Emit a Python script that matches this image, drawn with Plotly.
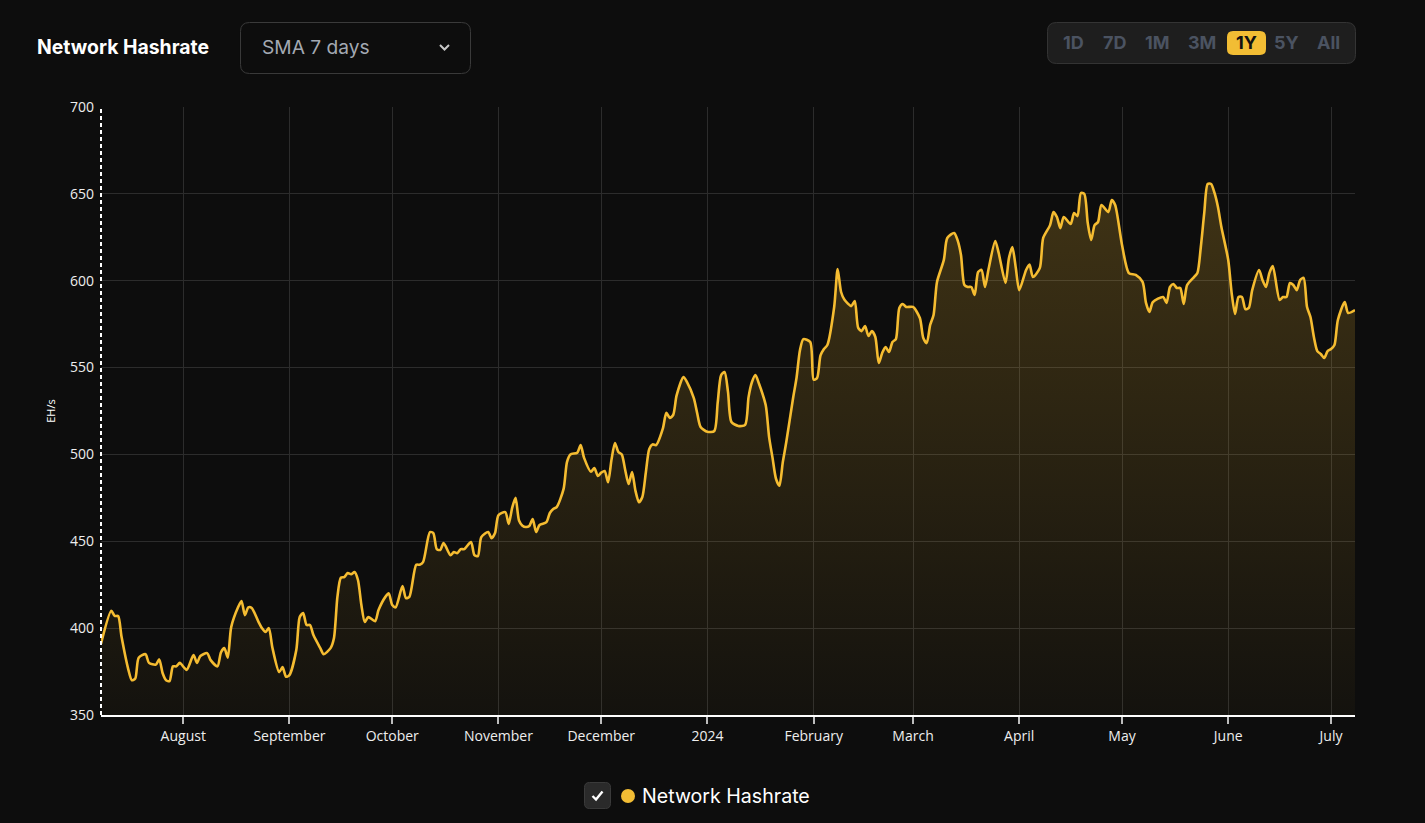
import pandas as pd
import plotly.graph_objects as go

# ---------------- data ----------------
start_date = "2023-07-08"
end_date = "2024-07-08"
day_offsets = [
    0, 3, 4, 5, 6, 8, 9, 10, 11, 13, 14, 16, 17, 18, 19, 20, 21, 22, 23, 25,
    27, 28, 29, 31, 32, 34, 35, 36, 37, 38, 40, 41, 42, 43, 44, 46, 47, 48, 49, 50,
    52, 53, 54, 55, 57, 58, 59, 60, 61, 62, 64, 65, 67, 68, 69, 70, 71, 72, 73, 74,
    75, 76, 77, 78, 80, 81, 83, 84, 85, 86, 88, 89, 90, 92, 93, 94, 96, 97, 98, 99,
    100, 102, 103, 104, 105, 106, 108, 109, 110, 111, 113, 114, 115, 116, 118, 119, 120, 121, 122, 123,
    124, 125, 126, 127, 128, 130, 131, 132, 133, 135, 136, 137, 139, 140, 141, 143, 144, 145, 146, 147,
    148, 149, 150, 151, 152, 153, 154, 155, 156, 157, 158, 159, 160, 161, 162, 164, 165, 166, 167, 168,
    170, 171, 173, 174, 175, 177, 179, 180, 181, 182, 183, 184, 186, 188, 189, 190, 191, 192, 194, 195,
    196, 197, 198, 199, 200, 202, 203, 204, 205, 207, 208, 209, 210, 211, 212, 214, 215, 216, 217, 219,
    220, 221, 222, 223, 224, 225, 226, 227, 228, 229, 230, 231, 232, 233, 234, 235, 237, 239, 240, 241,
    242, 243, 244, 246, 247, 249, 250, 251, 252, 253, 254, 255, 256, 257, 258, 259, 261, 262, 264, 265,
    266, 267, 268, 270, 271, 272, 274, 275, 277, 278, 279, 280, 281, 283, 284, 285, 286, 287, 288, 289,
    290, 291, 292, 294, 295, 296, 298, 300, 302, 304, 305, 306, 307, 310, 311, 312, 313, 314, 315, 316,
    317, 319, 320, 321, 322, 323, 324, 325, 326, 327, 329, 330, 331, 332, 333, 334, 335, 336, 338, 339,
    340, 341, 342, 344, 345, 346, 347, 348, 349, 350, 351, 352, 353, 354, 355, 356, 357, 358, 359, 360,
    361, 363, 364, 366,
]
hashrate = [
    391, 410, 407, 407, 395, 376, 370, 371, 383, 385, 380, 379, 382, 374, 370, 369.5, 378, 378, 380, 376,
    384.5, 380, 384, 385.6, 381.6, 378, 386, 388.5, 383, 400.6, 412, 415.6, 407.5, 412, 411.6, 403.5, 400, 397.8, 400, 389,
    374.7, 377.6, 372, 373, 387.4, 406.4, 408.7, 401.8, 401.8, 396, 388.5, 385, 388.5, 394.3, 418, 429, 429.4, 431.7, 431, 432.3,
    427.7, 413.3, 403.5, 406.4, 404, 410.4, 418, 420, 413.3, 412, 424.2, 417.3, 418, 436.5, 436.5, 438, 455.3, 454.7, 445.5, 445,
    449, 442, 443.8, 443.2, 445.5, 445.5, 449.6, 442, 441.5, 452.4, 455.3, 451.8, 454.7, 465, 466.8, 460, 469.2, 475, 462, 459,
    458.2, 458.8, 462.8, 455.3, 459.4, 461, 466.3, 468.6, 469.7, 480, 495.6, 500, 501, 505.4, 498, 490, 492.2, 487.6, 489.5, 490.5,
    484, 497, 506.6, 501.4, 500, 491, 483, 489.9, 479, 472.5, 475.5, 489.3, 503, 505.8, 505.4, 515, 524, 521, 522.7, 534,
    544.6, 541.7, 532.5, 523.8, 515.8, 513, 513.5, 530, 545.7, 547.4, 536, 518.7, 516.4, 517, 533, 541.7, 545.7, 541, 528.4, 510,
    498, 486, 482, 495.6, 507, 532.5, 544, 560, 566.4, 564.7, 543, 544, 557, 560.7, 563, 585, 606.7, 593.5, 589, 585.4,
    588.3, 572.8, 571, 573.9, 568.2, 571, 567.6, 552.6, 558.4, 561.8, 559, 564.7, 566.4, 584.3, 586.6, 584.9, 584.9, 578.5, 567, 564.1,
    574.5, 580.3, 599.3, 612, 624.6, 627.5, 623.4, 614.8, 597.5, 596.4, 596.4, 591.8, 605, 606.2, 596.4, 606.2, 622.9, 616, 598.7, 613,
    619.4, 607.3, 594.6, 606.2, 609.3, 602.1, 607.3, 624.6, 632, 639.5, 636.7, 630.3, 636.7, 632.6, 639, 637.2, 650.5, 649.9, 633.2, 623.4,
    632, 633.8, 643.6, 639.5, 646.5, 643.6, 620.6, 604.4, 603.3, 599.3, 587.2, 582, 587.7, 590.6, 587.2, 596.4, 598.1, 595.8, 595.8, 586.6,
    597.5, 602.1, 604.4, 619.4, 639, 655.7, 655.7, 650.5, 642.4, 630.9, 611.9, 592.9, 580.8, 590.6, 590.6, 583.7, 584.3, 594.6, 606.2, 600.4,
    596.4, 604.4, 608.5, 588.9, 590.6, 590.6, 598.7, 597.5, 594.6, 600.4, 601.6, 584.9, 579.1, 567.6, 559.5, 557.8, 555.5, 559.5, 560.7, 563,
    577.4, 587.7, 581.4, 583.1,
]
month_ticks = ["2023-08-01", "2023-09-01", "2023-10-01", "2023-11-01", "2023-12-01", "2024-01-01",
               "2024-02-01", "2024-03-01", "2024-04-01", "2024-05-01", "2024-06-01", "2024-07-01"]
month_labels = ["August", "September", "October", "November", "December", "2024",
                "February", "March", "April", "May", "June", "July"]
y_ticks = [350, 400, 450, 500, 550, 600, 650, 700]
range_buttons = ["1D", "7D", "1M", "3M", "1Y", "5Y", "All"]
active_button = "1Y"
series_name = "Network Hashrate"
chart_title = "Network Hashrate"
dropdown_label = "SMA 7 days"
y_title = "EH/s"

# ---------------- layout constants ----------------
W, H = 1425, 823
L, R, T, B = 101, 1355, 107, 715
BG = "#0d0d0d"
GOLD = "#f5bc31"

dates = pd.Timestamp(start_date) + pd.to_timedelta(day_offsets, unit="D")


def px(x):
    return (x - L) / (R - L)


def py(y):
    return (B - y) / (B - T)


def rrect(x0, y0, x1, y1, r):
    """Rounded rect path in paper coords from pixel box."""
    pts = [
        ("M", x0 + r, y0), ("L", x1 - r, y0), ("Q", x1, y0, x1, y0 + r),
        ("L", x1, y1 - r), ("Q", x1, y1, x1 - r, y1), ("L", x0 + r, y1),
        ("Q", x0, y1, x0, y1 - r), ("L", x0, y0 + r), ("Q", x0, y0, x0 + r, y0),
    ]
    s = ""
    for p in pts:
        if p[0] == "Q":
            s += f"Q{px(p[1]):.5f},{py(p[2]):.5f} {px(p[3]):.5f},{py(p[4]):.5f} "
        else:
            s += f"{p[0]}{px(p[1]):.5f},{py(p[2]):.5f} "
    return s + "Z"


fig = go.Figure()
fig.add_trace(go.Scatter(
    x=dates, y=hashrate, mode="lines", name=series_name,
    line=dict(color=GOLD, width=2.6, shape="spline", smoothing=0.7),
    fill="tozeroy",
    fillgradient=dict(type="vertical", start=350, stop=660,
                      colorscale=[[0, "rgba(245,188,49,0.03)"], [1, "rgba(245,188,49,0.22)"]]),
    hoverinfo="x+y", showlegend=False,
))

shapes = []
annotations = []

# dashed left axis line
shapes.append(dict(type="line", xref="paper", yref="paper", x0=0, x1=0, y0=0, y1=1,
                   line=dict(color="#ffffff", width=2, dash="4px,3px"), layer="above"))

# title
annotations.append(dict(text=f"<b>{chart_title}</b>", xref="paper", yref="paper",
                        x=px(35), y=py(47), xanchor="left", yanchor="middle", showarrow=False,
                        font=dict(family="Inter", size=19.4, color="#ffffff")))
# dropdown
shapes.append(dict(type="path", xref="paper", yref="paper", path=rrect(240.5, 22.5, 470.5, 73.5, 9),
                   line=dict(color="#3a3a3a", width=1), fillcolor=BG, layer="above"))
annotations.append(dict(text=dropdown_label, xref="paper", yref="paper",
                        x=px(259.5), y=py(47), xanchor="left", yanchor="middle", showarrow=False,
                        font=dict(family="Inter", size=19.2, color="#a3a9b3")))
shapes.append(dict(type="path", xref="paper", yref="paper",
                   path=f"M{px(440):.5f},{py(45):.5f} L{px(444.5):.5f},{py(49.5):.5f} L{px(449):.5f},{py(45):.5f}",
                   line=dict(color="#c8c8c8", width=2), layer="above"))

# range buttons
shapes.append(dict(type="path", xref="paper", yref="paper", path=rrect(1047.5, 22.5, 1355.5, 63.5, 9),
                   line=dict(color="#343434", width=1), fillcolor="#1e1e1e", layer="above"))
btn_centers = [1073, 1114, 1157, 1202, 1246, 1286, 1328]
for lbl, cx in zip(range_buttons, btn_centers):
    active = lbl == active_button
    if active:
        shapes.append(dict(type="path", xref="paper", yref="paper", path=rrect(1227, 31, 1266, 55, 6),
                           line=dict(width=0), fillcolor="#f2bd34", layer="above"))
    annotations.append(dict(text=f"<b>{lbl}</b>", xref="paper", yref="paper",
                            x=px(cx), y=py(43), xanchor="center", yanchor="middle", showarrow=False,
                            font=dict(family="Inter", size=18, color="#111111" if active else "#4b5361")))

# legend
shapes.append(dict(type="path", xref="paper", yref="paper", path=rrect(584.5, 782.5, 610.5, 808.5, 5),
                   line=dict(color="#3a3a3a", width=1), fillcolor="#2a2a2a", layer="above"))
shapes.append(dict(type="path", xref="paper", yref="paper",
                   path=f"M{px(592.5):.5f},{py(796):.5f} L{px(596):.5f},{py(799.5):.5f} L{px(602.5):.5f},{py(791.5):.5f}",
                   line=dict(color="#ffffff", width=2.4), layer="above"))
shapes.append(dict(type="circle", xref="paper", yref="paper",
                   x0=px(621), x1=px(635), y0=py(803), y1=py(789),
                   line=dict(width=0), fillcolor="#f2bd34", layer="above"))
annotations.append(dict(text=series_name, xref="paper", yref="paper",
                        x=px(639.5), y=py(796), xanchor="left", yanchor="middle", showarrow=False,
                        font=dict(family="Inter", size=19.6, color="#ffffff")))

fig.update_layout(
    width=W, height=H, autosize=False,
    margin=dict(l=L, r=W - R, t=T, b=H - B, pad=0),
    paper_bgcolor=BG, plot_bgcolor=BG,
    shapes=shapes, annotations=annotations,
    font=dict(family="Open Sans", color="#e6e6e6"),
    xaxis=dict(
        range=[start_date, end_date], tickvals=month_ticks, ticktext=month_labels,
        showgrid=True, gridcolor="#2c2c2c", gridwidth=1,
        showline=True, linecolor="#ffffff", linewidth=2,
        ticks="outside", ticklen=7, tickwidth=2, tickcolor="#bdbdbd",
        tickfont=dict(family="Open Sans", size=14, color="#eeeeee"), zeroline=False,
    ),
    yaxis=dict(
        range=[350, 700], tickvals=y_ticks, showgrid=True, gridcolor="#2c2c2c", gridwidth=1,
        showline=False, zeroline=False, ticks="", ticklabelstandoff=6,
        tickfont=dict(family="Open Sans", size=14, color="#eeeeee"),
        title=dict(text=y_title, font=dict(family="Open Sans", size=11, color="#ffffff"), standoff=12),
    ),
)

fig.write_html("out.html", config={"displayModeBar": False},
               post_script="document.body.style.margin='0';document.body.style.background='#0d0d0d';")
